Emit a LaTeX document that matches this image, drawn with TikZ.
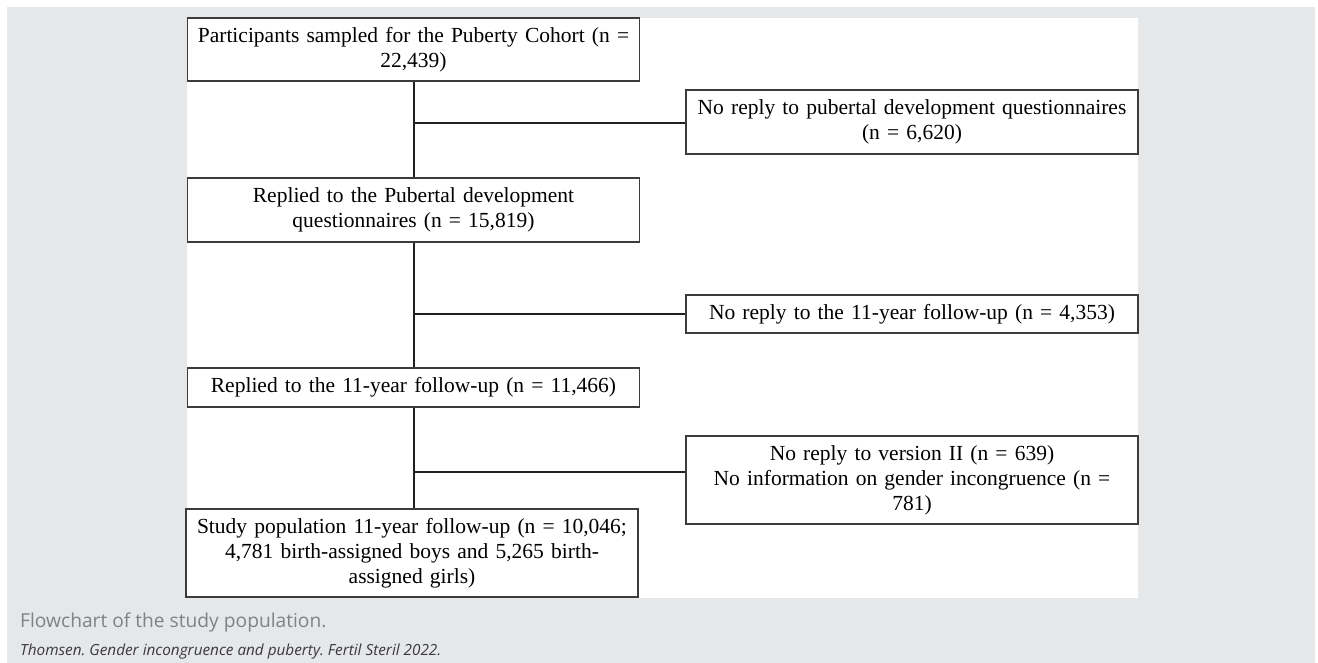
\documentclass[tikz,border=0pt]{standalone}
\usepackage{fontspec}
\setmainfont{Liberation Serif}
\newfontfamily\capfont{Open Sans}
\usetikzlibrary{positioning}
\frenchspacing
\definecolor{pagegray}{HTML}{E6E7E8}
\definecolor{capgray}{HTML}{808285}
\definecolor{citegray}{HTML}{3A3A3C}
\definecolor{boxline}{HTML}{3C3C3C}
\definecolor{flowink}{HTML}{231F20}
\newcommand{\boxfont}{\fontsize{21.5}{25}\selectfont\spaceskip=4.1pt plus 1pt minus 1pt\relax}
\tikzset{
  flowbox/.style={draw=boxline, line width=1.3pt, fill=white, align=center,
    inner sep=0pt, text width=440pt, minimum width=452pt, font=\boxfont},
  flowline/.style={draw=flowink, line width=2.2pt},
  captext/.style={anchor=west, inner sep=0pt}
}

\begin{document}
\begin{tikzpicture}[x=1pt,y=-1pt]
  \useasboundingbox (0,0) rectangle (1318,663);
  \fill[pagegray] (7,7) rectangle (1315,663);
  \fill[white] (187,18) rectangle (1138,598);

  \node[flowbox, minimum height=63pt] (sampled) at (413.5,49.5)
    {Participants sampled for the Puberty Cohort (n =\\ 22,439)};
  \node[flowbox, minimum height=64pt] (replied) at (413.5,210)
    {Replied to the Pubertal development\\ questionnaires (n = 15,819)};
  \node[flowbox, minimum height=39pt] (replied11) at (413.5,387.5)
    {Replied to the 11-year follow-up (n = 11,466)};
  \node[flowbox, minimum height=88pt] (study) at (412,553)
    {Study population 11-year follow-up (n = 10,046;\\ 4,781 birth-assigned boys and 5,265 birth-\\ assigned girls)};

  \node[flowbox, minimum height=64pt] (noreply) at (912,122)
    {No reply to pubertal development questionnaires\\ (n = 6,620)};
  \node[flowbox, minimum height=38pt] (noreply11) at (912,314)
    {No reply to the 11-year follow-up (n = 4,353)};
  \node[flowbox, minimum height=88pt] (noinfo) at (912,480)
    {No reply to version II (n = 639)\\ No information on gender incongruence (n =\\ 781)};

  \coordinate (split1) at (414,123);
  \coordinate (split2) at (414,314);
  \coordinate (split3) at (414,472);

  \draw[flowline] (sampled.south -| split1) -- (replied.north -| split1);
  \draw[flowline] (replied.south -| split2) -- (replied11.north -| split2);
  \draw[flowline] (replied11.south -| split3) -- (study.north -| split3);
  \draw[flowline] (split1) -- (split1 -| noreply.west);
  \draw[flowline] (split2) -- (split2 -| noreply11.west);
  \draw[flowline] (split3) -- (split3 -| noinfo.west);

  \node[captext, text=capgray, font=\capfont\fontsize{19.2}{22}\selectfont] (caption) at (20,622)
    {Flowchart of the study population.};
  \node[captext, text=citegray, font=\capfont\itshape\fontsize{15.3}{17}\selectfont] (source) at (20,652)
    {Thomsen. Gender incongruence and puberty. Fertil Steril 2022.};
\end{tikzpicture}
\end{document}
